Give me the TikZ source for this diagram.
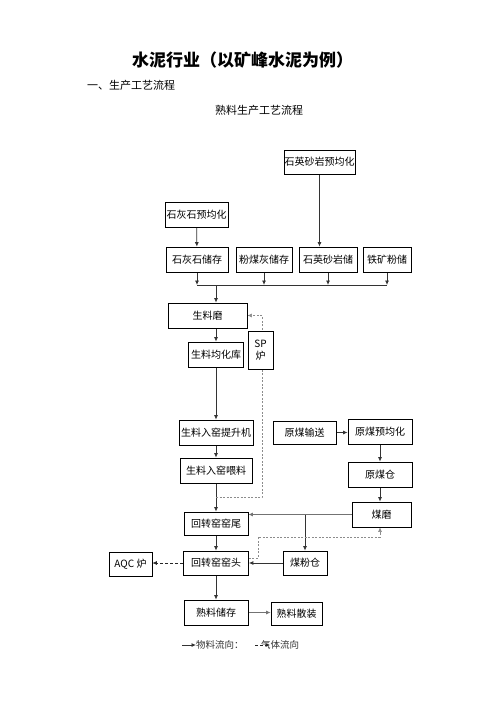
\documentclass[tikz,border=0pt]{standalone}
\usepackage{fontspec}
\setmainfont{Noto Sans CJK SC}
\usetikzlibrary{arrows.meta,backgrounds,calc}

\begin{document}
\begin{tikzpicture}[x=1pt,y=-1pt,
  kasten/.style={draw,fill=white,line width=0.7pt,inner sep=0pt,minimum height=25pt,font=\fontsize{10}{12}\selectfont},
  fluss/.style={line width=0.8pt,draw=black!80,-{Latex[length=4.5pt,width=4pt]}},
  dickfluss/.style={line width=1.6pt,draw=black!55,-{Latex[length=4.5pt,width=4pt]}},
  gas/.style={line width=0.6pt,draw=black!45,dash pattern=on 2pt off 1.5pt,-{Latex[length=4.5pt,width=4pt]}},
  abgas/.style={line width=0.7pt,draw=black!85,dash pattern=on 3pt off 2pt,-{Latex[length=4.5pt,width=4pt]}},
  ]
\useasboundingbox (0,0) rectangle (496,702);
\node[font=\fontsize{17}{20}\selectfont\bfseries] (titel) at (242.5,60) {水泥行业（以矿峰水泥为例）};
\node[anchor=west,inner sep=0pt,font=\fontsize{11}{13}\selectfont] (abschnitt) at (87,85) {一、生产工艺流程};
\node[font=\fontsize{11}{13}\selectfont] (untertitel) at (259,110) {熟料生产工艺流程};
\node[kasten,minimum width=71pt,minimum height=24pt] (qzvor) at (319.5,162) {石英砂岩预均化};
\node[kasten,minimum width=63pt] (kalkvor) at (196.5,214.5) {石灰石预均化};
\node[kasten,minimum width=62pt] (kalk) at (197,259.5) {石灰石储存};
\node[kasten,minimum width=56pt] (flugasche) at (264,259.5) {粉煤灰储存};
\node[kasten,minimum width=58pt] (quarz) at (328,259.5) {石英砂岩储};
\node[kasten,minimum width=48pt] (eisen) at (387,259.5) {铁矿粉储};
\node[kasten,minimum width=79pt] (rohmuehle) at (207.5,315.5) {生料磨};
\node[kasten,minimum width=55pt] (silo) at (216,354.5) {生料均化库};
\node[kasten,minimum width=25pt,minimum height=38pt,align=center] (sp) at (260.5,350) {SP\\炉};
\node[kasten,minimum width=74pt] (heber) at (216,432.5) {生料入窑提升机};
\node[kasten,minimum width=72pt] (aufgabe) at (216,470.5) {生料入窑喂料};
\node[kasten,minimum width=63pt,minimum height=23pt] (kohleförder) at (304.5,432.5) {原煤输送};
\node[kasten,minimum width=64pt] (kohlevor) at (380,431.5) {原煤预均化};
\node[kasten,minimum width=64pt] (kohlesilo) at (380,474.5) {原煤仓};
\node[kasten,minimum width=59pt] (kohlemuehle) at (381.5,514.5) {煤磨};
\node[kasten,minimum width=64pt,minimum height=23pt] (ofenende) at (216,523.5) {回转窑窑尾};
\node[kasten,minimum width=65pt,minimum height=24pt] (ofenkopf) at (216,563) {回转窑窑头};
\node[kasten,minimum width=44pt,minimum height=24pt] (staubsilo) at (305,563) {煤粉仓};
\node[kasten,minimum width=43pt,minimum height=24pt] (aqc) at (130.5,564) {AQC 炉};
\node[kasten,minimum width=64pt] (klinker) at (216,612.5) {熟料储存};
\node[kasten,minimum width=51pt,minimum height=23pt] (lose) at (296.5,613.5) {熟料散装};
\coordinate (sammel) at (216,285);
\coordinate (gasA) at (262,497);
\coordinate (gasB) at (258,537);
\coordinate (lgA) at (182,645);
\coordinate (lgB) at (255,645);
\node[anchor=west,inner sep=0pt,font=\fontsize{9.5}{11}\selectfont,text=black!80] (lgmat) at (196,645) {物料流向：};
\node[anchor=west,inner sep=0pt,font=\fontsize{9.5}{11}\selectfont,text=black!80] (lggas) at (261,645) {气体流向};
\begin{scope}[on background layer]
\draw[fluss] (kalkvor) -- (kalk);
\draw[fluss] (qzvor.south) -- (qzvor.south |- quarz.north);
\foreach \n in {kalk,flugasche,quarz,eisen}
  \draw[fluss] (\n.south) -- (\n.south |- sammel);
\draw[line width=0.8pt,black!80] (kalk.south |- sammel) -- (eisen.south |- sammel);
\draw[fluss] (sammel) -- (sammel |- rohmuehle.north);
\draw[fluss] (rohmuehle.south -| silo.north) -- (silo.north);
\draw[fluss] (silo) -- (heber);
\draw[fluss] (heber) -- (aufgabe);
\draw[fluss] (aufgabe) -- (ofenende);
\draw[fluss] (ofenende) -- (ofenkopf);
\draw[fluss] (ofenkopf) -- (klinker);
\draw[dickfluss] (klinker) -- (klinker -| lose.west);
\draw[fluss] (kohleförder) -- (kohleförder -| kohlevor.west);
\draw[fluss] (kohlevor) -- (kohlesilo);
\draw[fluss] (kohlesilo) -- (kohlesilo |- kohlemuehle.north);
\draw[dickfluss] (kohlemuehle.west) -- (kohlemuehle.west -| ofenende.east);
\draw[fluss] (staubsilo.north |- kohlemuehle.west) -- (staubsilo.north);
\draw[fluss] (staubsilo) -- (ofenkopf);
\draw[abgas] (ofenkopf.west) -- (ofenkopf.west -| aqc.east);
\draw[gas] (aufgabe.south |- gasA) -- (gasA) |- (rohmuehle.east);
\draw[gas] ([yshift=5pt]ofenkopf.east) -| (gasB) -| ([xshift=-1.5pt]kohlemuehle.south);
\draw[fluss] (lgA) -- (lgmat.west);
\draw[abgas] (lgB) -- ([xshift=9pt]lggas.west);
\end{scope}
\end{tikzpicture}
\end{document}
